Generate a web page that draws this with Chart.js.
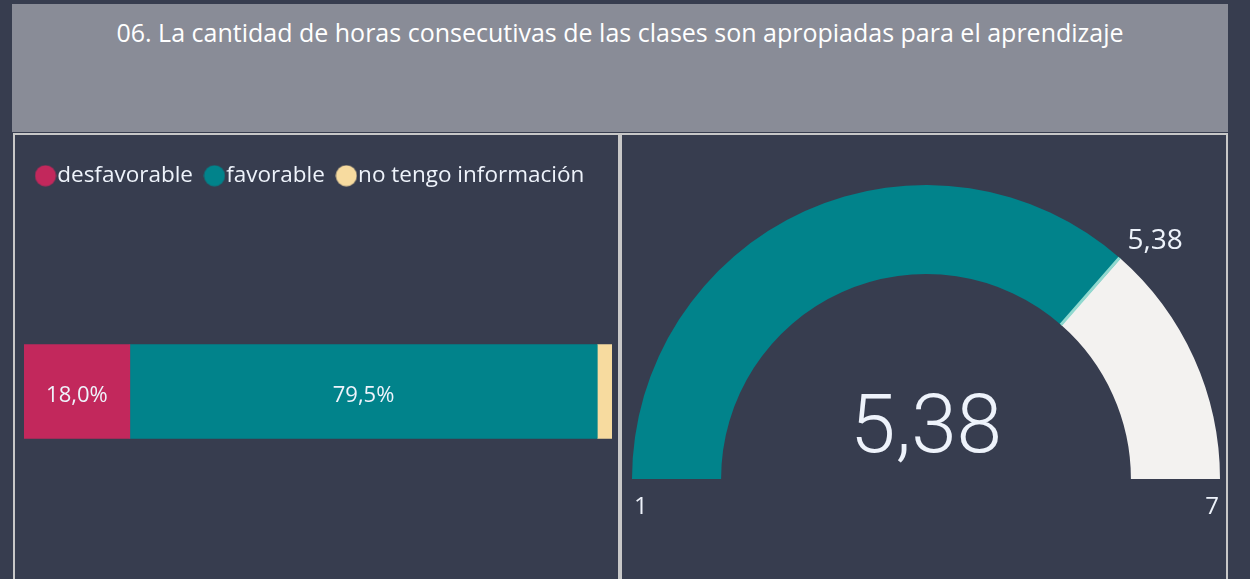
<!DOCTYPE html>
<html>
<head>
<meta charset="utf-8">
<script src="https://cdn.jsdelivr.net/npm/chart.js@4"></script>
<style>
  body { margin: 0; background: #373d4f; width: 1250px; height: 579px; overflow: hidden; font-family: "Open Sans", sans-serif; }
  #title { position: absolute; left: 12px; top: 4px; width: 1216px; height: 115px; padding-top: 13px; background: #898c97; color: #ffffff; font-size: 25px; line-height: 30px; text-align: center; }
  .panel { position: absolute; top: 133px; height: 456px; border: 2px solid #c8c8c8; }
  #leftPanel { left: 13px; width: 603px; }
  #rightPanel { left: 620px; width: 604px; }
  canvas { display: block; }
</style>
</head>
<body>
<div id="title">06. La cantidad de horas consecutivas de las clases son apropiadas para el aprendizaje</div>
<div class="panel" id="leftPanel"><canvas id="barChart" width="603" height="456"></canvas></div>
<div class="panel" id="rightPanel"><canvas id="gaugeChart" width="604" height="456"></canvas></div>

<script>
// answer categories and their shares (%)
const categories = ["desfavorable", "favorable", "no tengo información"];
const shares = [18.0, 79.5, 2.5];
const catColors = ["#c2285c", "#01838b", "#f7db9f"];

// gauge values
const gaugeMin = 1;
const gaugeMax = 7;
const gaugeValue = 5.38;
const gaugeTarget = 5.38;

const textColor = "#eef3fb";
const fmt = (v, d) => v.toFixed(d).replace(".", ",");

// round legend dot, drawn tight against its text
function dot(color) {
  const c = document.createElement("canvas");
  c.width = 22;
  c.height = 22;
  const g = c.getContext("2d");
  g.fillStyle = color;
  g.beginPath();
  g.arc(11, 11, 10.5, 0, Math.PI * 2);
  g.fill();
  return c;
}

// labels inside the stacked bar
const barLabels = {
  id: "barLabels",
  afterDatasetsDraw(chart) {
    const ctx = chart.ctx;
    ctx.save();
    ctx.font = "22px 'Open Sans'";
    ctx.fillStyle = textColor;
    ctx.textAlign = "center";
    ctx.textBaseline = "middle";
    chart.data.datasets.forEach((ds, i) => {
      const bar = chart.getDatasetMeta(i).data[0];
      if (Math.abs(bar.x - bar.base) < 50) return;
      ctx.fillText(fmt(ds.data[0], 1) + "%", (bar.x + bar.base) / 2, bar.y + 4);
    });
    ctx.restore();
  }
};

new Chart(document.getElementById("barChart"), {
  type: "bar",
  data: {
    labels: [""],
    datasets: categories.map((c, i) => ({
      label: c,
      data: [shares[i]],
      backgroundColor: catColors[i],
      borderWidth: 0,
      barThickness: 94
    }))
  },
  options: {
    indexAxis: "y",
    responsive: false,
    animation: false,
    layout: { padding: { left: 9, right: 6, top: 8.5, bottom: 5 } },
    plugins: {
      legend: {
        position: "top",
        align: "start",
        labels: {
          usePointStyle: true,
          pointStyleWidth: 1,
          padding: 21,
          color: textColor,
          font: { family: "'Open Sans'", size: 22.5 },
          generateLabels(chart) {
            return Chart.defaults.plugins.legend.labels.generateLabels(chart)
              .map((item, i) => ({ ...item, pointStyle: dot(catColors[i]) }));
          }
        }
      },
      tooltip: { enabled: false }
    },
    scales: {
      x: { stacked: true, min: 0, max: 100, display: false },
      y: { stacked: true, display: false }
    }
  },
  plugins: [barLabels]
});

// gauge texts and target marker
const gaugeDecor = {
  id: "gaugeDecor",
  afterDatasetsDraw(chart) {
    const ctx = chart.ctx;
    const arc = chart.getDatasetMeta(0).data[0];
    const { x, y, innerRadius, outerRadius } = arc;
    const a = arc.startAngle + Math.PI * (gaugeTarget - gaugeMin) / (gaugeMax - gaugeMin);
    ctx.save();
    // target line
    ctx.strokeStyle = "#8fd9cf";
    ctx.lineWidth = 3;
    ctx.beginPath();
    ctx.moveTo(x + Math.cos(a - 0.004) * innerRadius, y + Math.sin(a - 0.004) * innerRadius);
    ctx.lineTo(x + Math.cos(a - 0.004) * outerRadius, y + Math.sin(a - 0.004) * outerRadius);
    ctx.stroke();

    ctx.fillStyle = textColor;
    // target label
    const tx = x + Math.cos(a) * outerRadius;
    const ty = y + Math.sin(a) * outerRadius;
    ctx.font = "28px 'Open Sans'";
    ctx.textAlign = "left";
    ctx.textBaseline = "middle";
    ctx.fillText(fmt(gaugeTarget, 2), tx + 7, ty - 17);

    // min / max
    ctx.font = "24px 'Open Sans'";
    ctx.fillText(String(gaugeMin), x - outerRadius + 2, y + 28);
    ctx.textAlign = "right";
    ctx.fillText(String(gaugeMax), x + outerRadius - 1, y + 28);

    // center value
    ctx.font = "300 82px Roboto";
    ctx.textAlign = "center";
    ctx.textBaseline = "alphabetic";
    ctx.fillText(fmt(gaugeValue, 2), x, y - 27);
    ctx.restore();
  }
};

new Chart(document.getElementById("gaugeChart"), {
  type: "doughnut",
  data: {
    labels: ["valor", "resto"],
    datasets: [{
      data: [gaugeValue - gaugeMin, gaugeMax - gaugeValue],
      backgroundColor: ["#01838b", "#f3f2f0"],
      borderWidth: 0
    }]
  },
  options: {
    responsive: false,
    animation: false,
    rotation: -90,
    circumference: 180,
    cutout: "69.7%",
    layout: { padding: { left: 10, right: 6, top: 50, bottom: 112 } },
    plugins: {
      legend: { display: false },
      tooltip: { enabled: false }
    }
  },
  plugins: [gaugeDecor]
});
</script>
</body>
</html>
